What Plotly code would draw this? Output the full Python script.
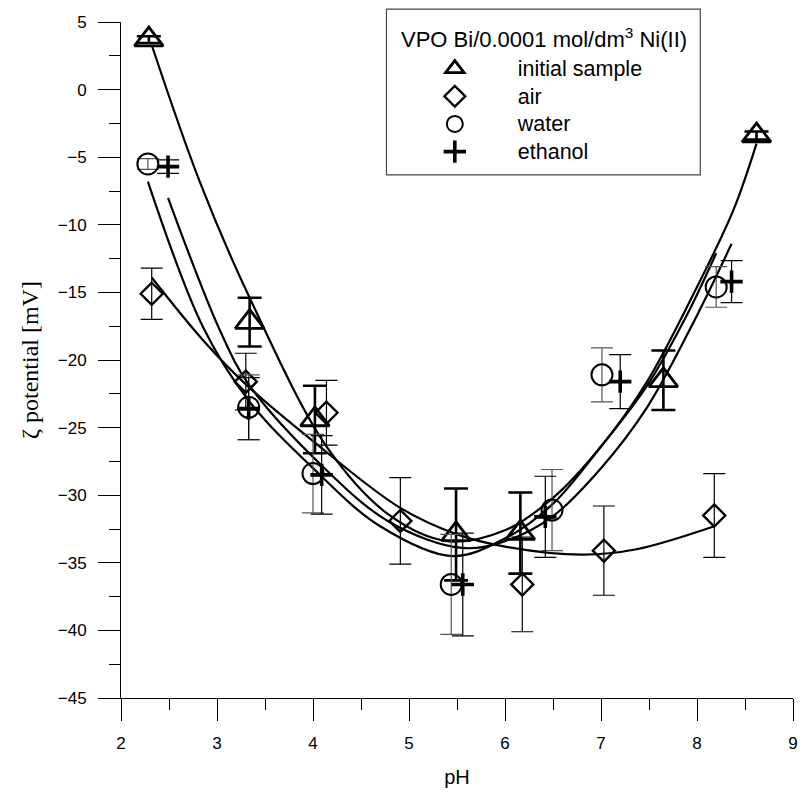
import plotly.graph_objects as go

# ---- measured data (pH, zeta potential [mV], error) ----
ph_initial = [2.29, 3.34, 4.02, 5.49, 6.16, 7.65, 8.62]
zeta_initial = [3.7, -17.2, -24.4, -32.9, -32.8, -21.5, -3.4]
err_initial = [0.25, 1.8, 2.5, 3.4, 3.0, 2.2, 0.3]

ph_air = [2.32, 3.30, 4.14, 4.91, 6.18, 7.03, 8.18]
zeta_air = [-15.1, -21.6, -23.9, -31.9, -36.6, -34.1, -31.5]
err_air = [1.9, 2.1, 2.4, 3.2, 3.5, 3.3, 3.1]

ph_water = [2.28, 3.33, 4.00, 5.44, 6.49, 7.01, 8.20]
zeta_water = [-5.5, -23.5, -28.4, -36.6, -31.1, -21.1, -14.6]
err_water = [0.4, 2.4, 2.9, 3.7, 3.0, 2.0, 1.5]

ph_ethanol = [2.49, 3.33, 4.09, 5.56, 6.42, 7.20, 8.36]
zeta_ethanol = [-5.7, -23.6, -28.5, -36.6, -31.6, -21.6, -14.2]
err_ethanol = [0.5, 2.3, 2.9, 3.8, 3.0, 2.0, 1.55]

# ---- fitted curves ----
fit_ph_initial = [2.32, 2.82, 3.34, 4.16, 4.8, 5.4, 6.0, 6.5, 7.0, 7.48, 8.0, 8.38, 8.62]
fit_initial = [3.3, -6.8, -15.4, -26.6, -31.5, -33.4, -32.6, -30.2, -26.4, -21.6, -14.6, -8.9, -4.0]

fit_ph_air = [2.32, 2.85, 3.3, 4.0, 4.9, 5.5, 6.0, 6.8, 7.37, 8.18]
fit_air = [-13.9, -18.5, -21.8, -26.0, -30.9, -32.9, -33.8, -34.4, -34.0, -32.3]

fit_ph_water = [2.28, 2.85, 3.33, 4.0, 4.7, 5.45, 6.0, 6.49, 7.0, 7.48, 7.9, 8.2]
fit_water = [-6.8, -17.5, -23.0, -28.0, -32.3, -34.5, -33.2, -30.7, -26.4, -21.9, -16.6, -12.1]

fit_ph_ethanol = [2.49, 3.03, 3.33, 4.09, 4.8, 5.55, 6.0, 6.49, 7.0, 7.48, 8.0, 8.36]
fit_ethanol = [-8.0, -17.8, -21.8, -27.8, -32.0, -33.9, -33.4, -31.6, -28.0, -23.5, -16.7, -11.4]

legend_title = "VPO Bi/0.0001 mol/dm<sup>3</sup> Ni(II)"
names = ["initial sample", "air", "water", "ethanol"]

fig = go.Figure()

# curves
for px, py in [(fit_ph_initial, fit_initial), (fit_ph_air, fit_air),
               (fit_ph_water, fit_water), (fit_ph_ethanol, fit_ethanol)]:
    fig.add_trace(go.Scatter(x=px, y=py, mode="lines", showlegend=False,
                             line=dict(color="black", width=2.2, shape="spline", smoothing=1.0),
                             hoverinfo="skip"))

series = [
    (ph_initial, zeta_initial, err_initial, names[0], "triangle-up-open", 25, 2.8, dict(color="black", thickness=2.6, width=12)),
    (ph_air, zeta_air, err_air, names[1], "diamond-open", 17, 2.4, dict(color="black", thickness=1.2, width=11)),
    (ph_water, zeta_water, err_water, names[2], "circle-open", 21, 2.0, dict(color="#555555", thickness=1.2, width=11)),
    (ph_ethanol, zeta_ethanol, err_ethanol, names[3], "cross-thin-open", 16, 3.6, dict(color="black", thickness=1.2, width=11)),
]
for x, y, e, name, sym, size, lw, eb in series:
    fig.add_trace(go.Scatter(
        x=x, y=y, mode="markers", cliponaxis=False,
        name='<span style="font-size:21.5px">' + name + '</span>',
        marker=dict(symbol=sym, size=size, color="black", line=dict(color="black", width=lw)),
        error_y=dict(type="data", array=e, visible=True, **eb),
    ))

axis_common = dict(
    showline=True, linecolor="black", linewidth=1, mirror=False,
    ticks="outside", ticklen=22, tickwidth=1, tickcolor="black",
    showgrid=False, zeroline=False,
    tickfont=dict(family="Liberation Sans, Arial", size=17, color="black"),
)

fig.update_xaxes(range=[2, 9], tick0=2, dtick=1,
                 minor=dict(dtick=0.5, ticks="outside", ticklen=11, tickcolor="black", tickwidth=1),
                 title=dict(text="pH", font=dict(family="Liberation Sans, Arial", size=20, color="black"), standoff=17),
                 ticklabelstandoff=8,
                 **axis_common)
fig.update_yaxes(range=[-45, 5], tick0=-45, dtick=5,
                 minor=dict(dtick=2.5, ticks="outside", ticklen=11, tickcolor="black", tickwidth=1),
                 title=dict(text="ζ potential [mV]", font=dict(family="Liberation Serif, Times New Roman", size=24, color="black"), standoff=12),
                 ticklabelstandoff=8,
                 **axis_common)

fig.update_layout(
    width=807, height=793,
    margin=dict(l=121, r=9, t=22, b=94),
    plot_bgcolor="white", paper_bgcolor="white",
    showlegend=True,
    legend=dict(x=0.403, xanchor="left", y=0.959, yanchor="top",
                bgcolor="rgba(0,0,0,0)", borderwidth=0, itemwidth=116,
                font=dict(family="Liberation Sans, Arial", size=19, color="black"),
                tracegroupgap=0),
    shapes=[dict(type="rect", xref="paper", yref="paper",
                 x0=0.395, x1=0.862, y0=0.774, y1=1.019,
                 line=dict(color="#444444", width=1.2), fillcolor="rgba(0,0,0,0)")],
    annotations=[dict(text=legend_title, xref="paper", yref="paper",
                      x=0.629, y=0.977, xanchor="center", yanchor="middle", showarrow=False,
                      font=dict(family="Liberation Sans, Arial", size=22, color="black"))],
)

fig.write_html("out.html")
